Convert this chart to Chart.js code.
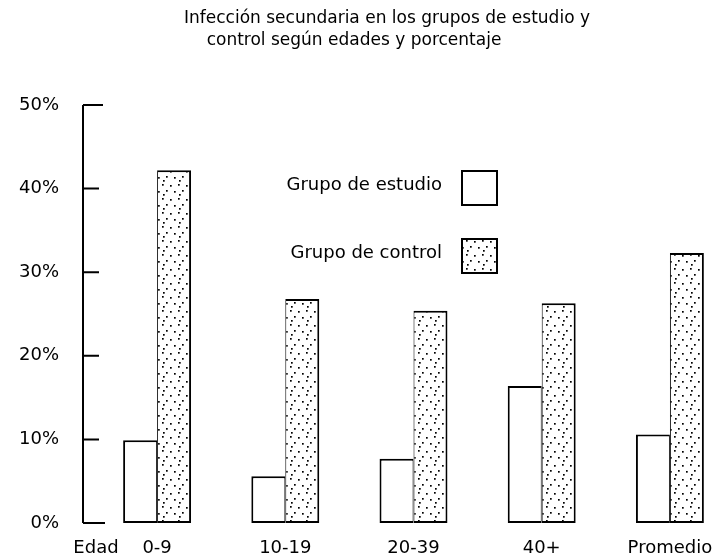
<!DOCTYPE html>
<html>
<head>
<meta charset="utf-8">
<script src="https://cdn.jsdelivr.net/npm/chart.js@4"></script>
<style>
  html, body { margin: 0; padding: 0; background: #fff; overflow: hidden; }
  canvas { display: block; }
</style>
</head>
<body>
<canvas id="chart" width="760" height="556"></canvas>
<script>
const categories = ['0-9', '10-19', '20-39', '40+', 'Promedio'];
const estudio = [9.9, 5.6, 7.7, 16.4, 10.6];
const control = [42.2, 26.8, 25.4, 26.3, 32.3];
const yTicks = [0, 10, 20, 30, 40, 50];
const seriesNames = ['Grupo de estudio', 'Grupo de control'];
const titleLines = ['Infección secundaria en los grupos de estudio y', 'control según edades y porcentaje'];
const axisName = 'Edad';

const FONT = '"DejaVu Sans", sans-serif';

function dotPattern(ctx) {
  const p = document.createElement('canvas');
  p.width = 16;
  p.height = 14;
  const g = p.getContext('2d');
  g.fillStyle = '#fff';
  g.fillRect(0, 0, 16, 14);
  g.fillStyle = '#000';
  [[2, 2], [10, 3], [6, 8], [14, 9], [3, 12]].forEach(([x, y]) => g.fillRect(x, y, 1.7, 1.7));
  return ctx.createPattern(p, 'repeat');
}

const canvas = document.getElementById('chart');
const dots = dotPattern(canvas.getContext('2d'));

// axis, legend, title and "Edad" are drawn by hand like the print
const decor = {
  id: 'decor',
  afterDraw(chart) {
    const { ctx, chartArea, scales } = chart;
    const y = scales.y;
    const ax = chartArea.left - 10;
    ctx.save();
    ctx.strokeStyle = '#000';
    ctx.lineWidth = 2;
    ctx.beginPath();
    ctx.moveTo(ax, y.getPixelForValue(0));
    ctx.lineTo(ax, y.getPixelForValue(50));
    yTicks.forEach((v) => {
      const py = y.getPixelForValue(v);
      const len = v === 0 ? 22 : v === 50 ? 20 : 16;
      ctx.moveTo(ax, py);
      ctx.lineTo(ax + len, py);
    });
    ctx.stroke();

    // legend
    ctx.font = '18px ' + FONT;
    ctx.textAlign = 'right';
    ctx.textBaseline = 'middle';
    chart.data.datasets.forEach((ds, i) => {
      const cy = 188 + i * 68;
      ctx.fillStyle = '#000';
      ctx.fillText(ds.label, 442, cy - 3);
      ctx.fillStyle = ds.backgroundColor;
      ctx.fillRect(462, cy - 17, 35, 34);
      ctx.strokeRect(462, cy - 17, 35, 34);
    });

    // title
    ctx.fillStyle = '#000';
    ctx.textAlign = 'center';
    ctx.textBaseline = 'alphabetic';
    ctx.font = '17px ' + FONT;
    ctx.fillText(titleLines[0], 387, 23);
    ctx.fillText(titleLines[1], 354, 45);

    ctx.font = '18px ' + FONT;
    ctx.fillText(axisName, 96, 553);
    ctx.restore();
  },
};

new Chart(canvas, {
  type: 'bar',
  data: {
    labels: categories,
    datasets: [
      {
        label: seriesNames[0],
        data: estudio,
        backgroundColor: '#fff',
        borderColor: '#000',
        borderWidth: { top: 2, left: 2, bottom: 2, right: 1 },
        borderSkipped: false,
      },
      {
        label: seriesNames[1],
        data: control,
        backgroundColor: dots,
        borderColor: '#000',
        borderWidth: { top: 2, left: 1, bottom: 2, right: 2 },
        borderSkipped: false,
      },
    ],
  },
  options: {
    responsive: false,
    animation: false,
    layout: { padding: { top: 105, right: 26, bottom: 0, left: 0 } },
    categoryPercentage: 0.53,
    barPercentage: 1,
    plugins: { legend: { display: false }, title: { display: false }, tooltip: { enabled: false } },
    scales: {
      x: {
        grid: { display: false, drawTicks: false },
        border: { display: false },
        ticks: { color: '#000', font: { family: FONT, size: 18 }, padding: 15, autoSkip: false, maxRotation: 0 },
        afterFit: (s) => { s.height = 33; },
      },
      y: {
        min: 0,
        max: 50,
        grid: { display: false, drawTicks: false },
        border: { display: false },
        ticks: {
          stepSize: 10,
          color: '#000',
          padding: 34,
          font: { family: FONT, size: 18 },
          callback: (v) => v + '%',
        },
        afterFit: (s) => {
          s.width = 93;
          s.paddingTop = 0;
          s.paddingBottom = 0;
        },
      },
    },
  },
  plugins: [decor],
});
</script>
</body>
</html>
